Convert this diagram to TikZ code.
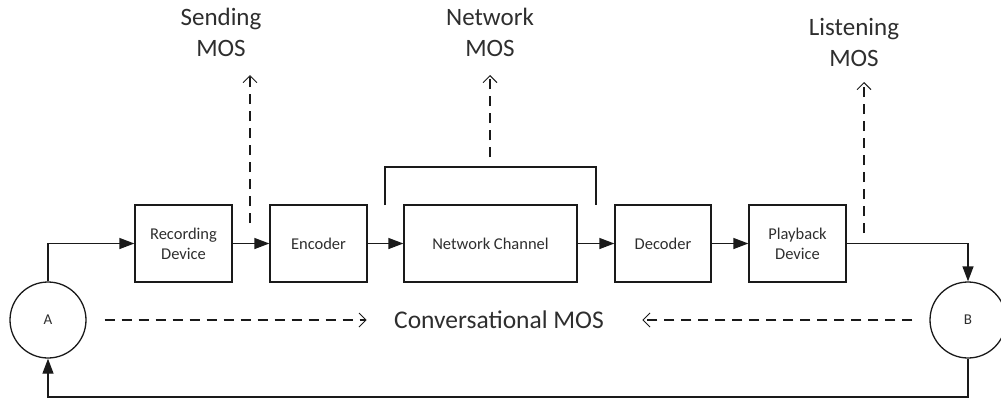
\documentclass[tikz,border=0pt]{standalone}
\usepackage{fontspec}
\setmainfont{Carlito}
\usepackage{tikz}
\usetikzlibrary{arrows.meta,positioning,calc}
\definecolor{inkc}{HTML}{1A1A1A}
\definecolor{textc}{HTML}{2E2E2E}

\begin{document}
\begin{tikzpicture}[x=1pt,y=-1pt,
  stagebox/.style={draw=inkc,line width=1.3pt,minimum height=77pt,inner sep=0pt,
    align=center,font=\fontsize{16.5}{20}\selectfont,text=textc},
  party/.style={draw=inkc,line width=1.3pt,circle,minimum size=76pt,inner sep=0pt,
    font=\fontsize{15}{18}\selectfont,text=textc},
  moslbl/.style={align=center,font=\fontsize{25}{31}\selectfont,text=textc},
  flow/.style={draw=inkc,line width=1.3pt,-{Triangle[length=15pt,width=11pt]}},
  tap/.style={draw=inkc,line width=1.2pt,dash pattern=on 10pt off 7pt,
    -{Straight Barb[length=7pt,width=14pt,line width=0.9pt]}},
]
\useasboundingbox (0,0) rectangle (1001,400);

% signal chain
\node[stagebox,minimum width=97pt]  (rec)  at (183.5,243.5) {Recording\\Device};
\node[stagebox,minimum width=97pt]  (enc)  at (318.5,243.5) {Encoder};
\node[stagebox,minimum width=173pt] (net)  at (490.5,243.5) {Network Channel};
\node[stagebox,minimum width=96pt]  (dec)  at (663,243.5)   {Decoder};
\node[stagebox,minimum width=97pt]  (play) at (797.5,243.5) {Playback\\Device};

% the two talkers
\node[party] (ua) at (48,320)  {A};
\node[party] (ub) at (968,320) {B};

\draw[flow] (ua.north) |- (rec.west);
\draw[flow] (rec) -- (enc);
\draw[flow] (enc) -- (net);
\draw[flow] (net) -- (dec);
\draw[flow] (dec) -- (play);
\draw[flow] (play.east) -| (ub.north);
\coordinate (loopr) at (968,397);
\draw[flow] (ub.south) -- (loopr) -| (ua.south);

% measurement points
\node[moslbl] (sendlbl)   at (221,32) {Sending\\MOS};
\node[moslbl] (netlbl)    at (490,32) {Network\\MOS};
\node[moslbl] (listenlbl) at (854,42) {Listening\\MOS};
\node[moslbl,font=\fontsize{25.5}{31}\selectfont] (conv) at (499,320) {Conversational MOS};

\coordinate (sendlow) at (250,223);
\coordinate (sendtop) at (250,75);
\draw[tap] (sendlow) -- (sendtop);

\coordinate (brl) at (385,205);
\coordinate (brr) at (596,205);
\draw[draw=inkc,line width=1.3pt] (brl) -- (385,167) -- (596,167) -- (brr);
\coordinate (netlow) at (490,157);
\coordinate (nettop) at (490,75);
\draw[tap] (netlow) -- (nettop);

\coordinate (listenlow) at (864,233);
\coordinate (listentop) at (864,82);
\draw[tap] (listenlow) -- (listentop);

\draw[tap] ([xshift=18pt]ua.east) -- ([xshift=-24pt]conv.west);
\draw[tap] ([xshift=-17pt]ub.west) -- ([xshift=35pt]conv.east);
\end{tikzpicture}
\end{document}
